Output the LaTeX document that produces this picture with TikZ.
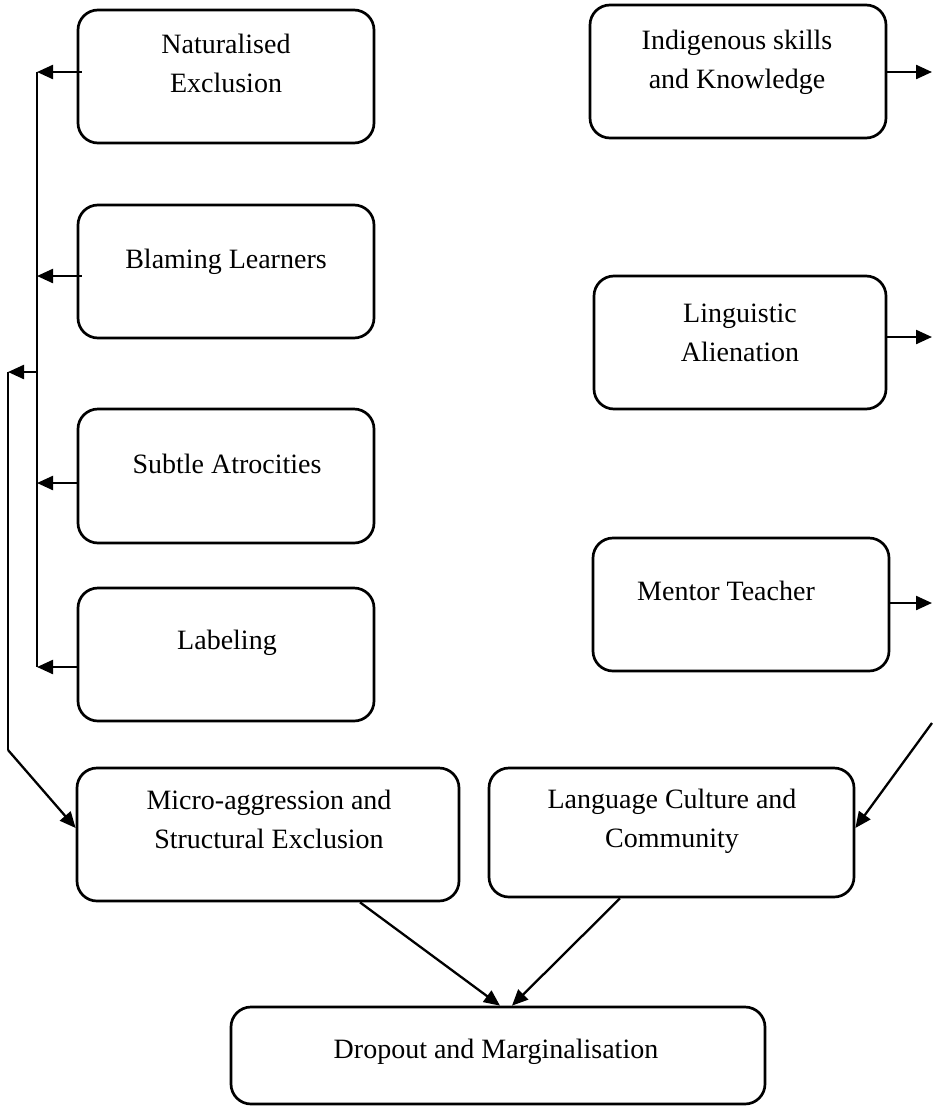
\documentclass[tikz,border=0pt]{standalone}
\usepackage{fontspec}
\setmainfont{Liberation Serif}
\usetikzlibrary{arrows.meta}
\begin{document}
\begin{tikzpicture}[x=1pt,y=-1pt,
  box/.style={draw, line width=2.7pt, rounded corners=20pt, inner sep=0pt},
  lbl/.style={font=\fontsize{28}{39}\selectfont, align=center, inner sep=0pt, anchor=base},
  link/.style={line width=2.3pt, -{Triangle[length=16pt,width=14pt]}},
  plain/.style={line width=2.3pt}]
\useasboundingbox (0,0) rectangle (932,1106);

% left column boxes
\node[box, minimum width=296pt, minimum height=133pt] (nat) at (226,76.5) {};
\node[box, minimum width=296pt, minimum height=133pt] (bla) at (226,271.5) {};
\node[box, minimum width=296pt, minimum height=134pt] (sub) at (226,476) {};
\node[box, minimum width=296pt, minimum height=133pt] (lab) at (226,654.5) {};
\node[box, minimum width=382pt, minimum height=133pt] (mic) at (268,834.5) {};

% right column boxes
\node[box, minimum width=296pt, minimum height=133pt] (ind) at (738,71.5) {};
\node[box, minimum width=292pt, minimum height=133pt] (lin) at (740,342.5) {};
\node[box, minimum width=296pt, minimum height=133pt] (men) at (741,604.5) {};
\node[box, minimum width=365pt, minimum height=129pt] (lan) at (671.5,832.5) {};

% bottom box
\node[box, minimum width=534pt, minimum height=97pt] (dro) at (498,1055.5) {};

% labels (anchored on the baseline of their last line)
\node[lbl] (natT) at (226,92) {Naturalised\\Exclusion};
\node[lbl] (blaT) at (226,268) {Blaming Learners};
\node[lbl] (subT) at (227,473) {Subtle Atrocities};
\node[lbl] (labT) at (227,649) {Labeling};
\node[lbl] (micT) at (269,848) {Micro-aggression and\\Structural Exclusion};
\node[lbl] (indT) at (737,88) {Indigenous skills\\and Knowledge};
\node[lbl] (linT) at (740,361) {Linguistic\\Alienation};
\node[lbl] (menT) at (726,600) {Mentor Teacher};
\node[lbl] (lanT) at (672,847) {Language Culture and\\Community};
\node[lbl] (droT) at (496,1058) {Dropout and Marginalisation};

% left collector lines
\coordinate (tNat) at (37,72);
\coordinate (tBla) at (37,276);
\coordinate (tSub) at (37,483);
\coordinate (tLab) at (37,667);
\coordinate (tOut) at (37,372);
\coordinate (oTop) at (8,372);
\coordinate (oBot) at (8,750);

\draw[plain] (tNat) -- (tLab);
\draw[link] ([xshift=5pt]nat.west |- tNat) -- (tNat);
\draw[link] ([xshift=5pt]bla.west |- tBla) -- (tBla);
\draw[link] (sub.west |- tSub) -- (tSub);
\draw[link] (lab.west |- tLab) -- (tLab);
\draw[link] (tOut) -- (oTop);
\draw[plain] (oTop) -- (oBot);
\draw[link] (oBot) -- ([yshift=6.5pt]mic.west);

% right outgoing lines
\coordinate (rInd) at (932,72);
\coordinate (rLin) at (932,337);
\coordinate (rMen) at (932,603);
\coordinate (rTop) at (932,723);
\draw[link] (ind.east |- rInd) -- (rInd);
\draw[link] (lin.east |- rLin) -- (rLin);
\draw[link] (men.east |- rMen) -- (rMen);
\draw[link] (rTop) -- ([yshift=4.5pt]lan.east);

% into the outcome box
\draw[link] (mic.south -| 360,0) -- ([xshift=2pt]dro.north);
\draw[link] (lan.south -| 620,0) -- ([xshift=14pt]dro.north);
\end{tikzpicture}
\end{document}
